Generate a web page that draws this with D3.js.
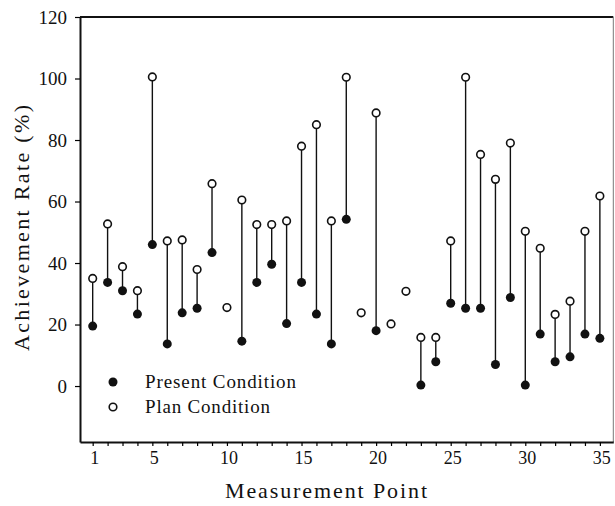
<!DOCTYPE html>
<html>
<head>
<meta charset="utf-8">
<script src="https://cdn.jsdelivr.net/npm/d3@7"></script>
<style>
  body { margin: 0; background: #fff; }
  text { font-family: "Liberation Serif", serif; fill: #111; }
</style>
</head>
<body>
<div id="chart"></div>
<script>
// Messpunkte 1..35, null = kein Wert vorhanden
const points = d3.range(1, 36);
const present = [19.5, 33.7, 31, 23.4, 46, 13.7, 23.8, 25.3, 43.4, null,
                 14.6, 33.7, 39.6, 20.3, 33.7, 23.4, 13.7, 54.2, null, 18,
                 null, null, 0.3, 7.9, 26.9, 25.3, 25.3, 7, 28.8, 0.3,
                 16.9, 7.9, 9.5, 16.9, 15.5];
const plan = [35, 52.7, 38.8, 31, 100.5, 47.2, 47.5, 37.9, 65.8, 25.5,
              60.5, 52.5, 52.5, 53.7, 78, 85, 53.7, 100.4, 23.8, 88.8,
              20.2, 30.8, 15.8, 15.8, 47.2, 100.4, 75.3, 67.2, 79, 50.3,
              44.8, 23.3, 27.6, 50.3, 61.8];
const xTickLabels = [1, 5, 10, 15, 20, 25, 30, 35];
const yTicks = [0, 20, 40, 60, 80, 100, 120];
const legendItems = ["Present Condition", "Plan Condition"];

const width = 615, height = 506;
const margin = {top: 17, right: 1.7, bottom: 64, left: 80};

const svg = d3.select("#chart").append("svg")
    .attr("width", width).attr("height", height);

const xScale = d3.scaleLinear()
    .domain([0.15, 35.9])
    .range([margin.left, width - margin.right]);
const yScale = d3.scaleLinear()
    .domain([-18.2, 120])
    .range([height - margin.bottom, margin.top]);

const x0 = xScale.range()[0], x1 = xScale.range()[1];
const yTop = yScale.range()[1], yBot = yScale.range()[0];

// Rahmen
svg.append("line").attr("x1", x0).attr("x2", x1).attr("y1", yTop).attr("y2", yTop)
    .attr("stroke", "#111").attr("stroke-width", 2);
svg.append("line").attr("x1", x1).attr("x2", x1).attr("y1", yTop).attr("y2", yBot)
    .attr("stroke", "#777").attr("stroke-width", 1);

// Achsen
const bottomAxis = d3.axisBottom(xScale)
    .tickValues(points).tickSize(4).tickSizeOuter(0)
    .tickFormat("");
svg.append("g")
    .attr("transform", `translate(0, ${yBot})`)
    .call(bottomAxis)
    .call(g => g.select(".domain").attr("stroke-width", 2).attr("stroke", "#111"))
    .call(g => g.selectAll(".tick line").attr("stroke-width", 1.2));

svg.append("g").selectAll("text")
    .data(xTickLabels)
    .join("text")
    .attr("x", d => xScale(d) + 2)
    .attr("y", 464)
    .attr("text-anchor", "middle")
    .attr("font-size", 18)
    .text(d => d);

const leftAxis = d3.axisLeft(yScale)
    .tickValues(yTicks).tickSize(5).tickSizeOuter(0).tickPadding(8);
svg.append("g")
    .attr("transform", `translate(${x0}, 0)`)
    .call(leftAxis)
    .call(g => g.select(".domain").attr("stroke-width", 2).attr("stroke", "#111"))
    .call(g => g.selectAll(".tick line").attr("stroke-width", 1.2))
    .call(g => g.selectAll(".tick text")
        .attr("font-size", 19)
        .attr("font-family", "Liberation Serif, serif")
        .attr("fill", "#111"));

// Achsentitel
svg.append("text")
    .attr("transform", "translate(29, 228) rotate(-90)")
    .attr("text-anchor", "middle")
    .attr("font-size", 22)
    .attr("textLength", 246)
    .attr("lengthAdjust", "spacing")
    .text("Achievement Rate (%)");

svg.append("text")
    .attr("x", 326)
    .attr("y", 498)
    .attr("text-anchor", "middle")
    .attr("font-size", 22)
    .attr("textLength", 202)
    .attr("lengthAdjust", "spacing")
    .text("Measurement Point");

// Stiele von Present zu Plan
const rows = points.map((p, i) => ({p, pres: present[i], plan: plan[i]}));
svg.append("g").selectAll("line")
    .data(rows.filter(d => d.pres !== null))
    .join("line")
    .attr("x1", d => xScale(d.p)).attr("x2", d => xScale(d.p))
    .attr("y1", d => yScale(d.pres)).attr("y2", d => yScale(d.plan))
    .attr("stroke", "#111").attr("stroke-width", 1.4);

// Plan (offen)
svg.append("g").selectAll("circle")
    .data(rows)
    .join("circle")
    .attr("cx", d => xScale(d.p))
    .attr("cy", d => yScale(d.plan))
    .attr("r", 3.8)
    .attr("fill", "#fff")
    .attr("stroke", "#111")
    .attr("stroke-width", 1.6);

// Present (gefuellt)
svg.append("g").selectAll("circle")
    .data(rows.filter(d => d.pres !== null))
    .join("circle")
    .attr("cx", d => xScale(d.p))
    .attr("cy", d => yScale(d.pres))
    .attr("r", 4.5)
    .attr("fill", "#111");

// Legende
const legend = svg.append("g");
legendItems.forEach((name, i) => {
    const ly = 382 + i * 25;
    legend.append("circle")
        .attr("cx", 113).attr("cy", ly)
        .attr("r", i === 0 ? 4.5 : 3.8)
        .attr("fill", i === 0 ? "#111" : "#fff")
        .attr("stroke", "#111").attr("stroke-width", i === 0 ? 0 : 1.6);
    legend.append("text")
        .attr("x", 145).attr("y", ly + 6)
        .attr("font-size", 19)
        .attr("textLength", i === 0 ? 151 : 125)
        .attr("lengthAdjust", "spacing")
        .text(name);
});
</script>
</body>
</html>
